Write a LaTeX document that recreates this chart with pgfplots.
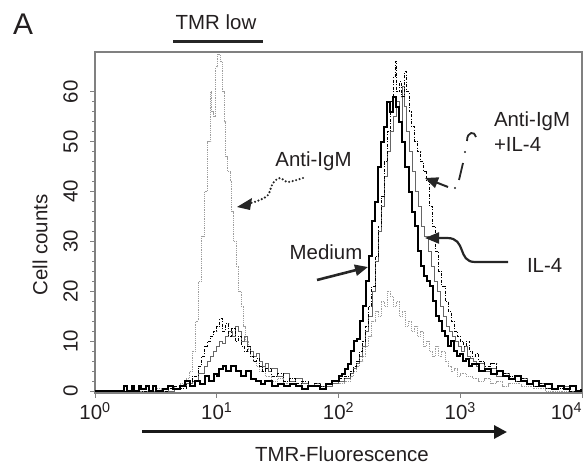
\documentclass[border=0pt]{standalone}
\usepackage{fontspec}
\setmainfont{Liberation Sans}
\usepackage{pgfplots}
\usepackage{pgfplotstable}
\pgfplotsset{compat=1.18}
\usetikzlibrary{arrows.meta}

\pgfplotstableread{
lx c
0.00 0
0.40 0
0.50 0.5
0.55 0
0.60 1
0.65 0.5
0.70 1.5
0.725 1
0.75 2.5
0.775 4
0.80 8
0.825 14
0.85 22
0.875 31
0.90 40
0.925 50
0.95 60
0.96 56
0.975 55
0.99 65
1.01 67.5
1.03 66
1.045 60
1.06 54
1.075 47
1.09 44
1.11 42
1.125 36
1.14 30
1.16 25
1.18 20
1.20 17
1.22 13
1.24 10
1.26 8
1.28 7
1.30 6
1.325 5
1.35 4
1.375 5
1.40 3
1.425 3
1.45 2
1.50 2.5
1.55 1.5
1.60 2
1.65 1
1.70 1.5
1.75 1
1.80 1.5
1.85 1
1.90 1.5
1.95 2
2.00 1.5
2.05 2
2.10 3
2.125 4
2.15 5
2.175 6
2.20 7
2.225 9
2.25 11
2.275 14
2.30 16
2.325 15
2.35 18
2.375 17
2.40 20
2.425 19
2.45 17
2.475 18
2.50 15
2.525 16
2.55 13
2.575 14
2.60 12
2.625 13
2.65 11
2.675 12
2.70 9
2.725 10
2.75 8
2.775 7
2.80 9
2.825 7
2.85 8
2.875 6
2.90 5
2.925 4
2.95 4.5
2.975 3
3.00 3.5
3.05 3
3.10 2.5
3.15 2
3.20 2.5
3.25 1.5
3.30 2
3.35 1
3.40 1.5
3.50 1
3.60 0.5
3.70 0
3.99 0
}\antiigm

\pgfplotstableread{
lx c
0.00 0
0.22 0
0.24 1
0.26 0
0.30 1
0.32 0
0.36 1
0.38 0.5
0.42 1
0.44 0
0.48 1
0.50 0
0.56 0.5
0.60 1
0.64 0.5
0.70 1
0.74 2
0.78 1
0.82 2
0.86 1.5
0.90 3
0.94 2
0.98 3.5
1.00 3
1.02 4.5
1.05 5
1.08 4
1.12 5
1.16 4
1.20 3
1.24 4
1.28 2.5
1.32 2
1.36 1.5
1.40 2
1.45 1
1.50 1.5
1.55 1
1.60 1.5
1.65 1
1.70 0.5
1.75 1
1.80 1
1.85 0.5
1.90 1.5
1.95 2
2.00 3
2.025 3.5
2.05 4.5
2.075 5.5
2.10 8
2.125 10
2.15 10.5
2.175 14
2.20 17
2.225 22
2.25 27
2.275 34
2.30 38
2.325 45
2.35 50
2.375 53
2.40 58
2.425 56
2.45 59
2.475 57
2.50 54
2.525 50
2.55 45
2.575 40
2.60 36
2.625 33
2.65 28
2.675 25
2.70 23
2.725 22
2.75 21
2.775 18
2.80 15
2.825 14
2.85 12
2.875 11
2.90 9
2.925 10
2.95 8
2.975 7
3.00 7.5
3.025 6
3.05 6.5
3.075 5
3.10 5.5
3.15 4
3.20 4.5
3.25 3.5
3.30 4
3.35 3
3.40 2.5
3.45 3
3.50 2
3.55 1.5
3.60 2
3.65 1
3.70 1.5
3.75 0.5
3.80 1
3.85 0.5
3.90 1
3.95 0
3.99 0.5
}\medium

\pgfplotstableread{
lx c
0.00 0
0.50 0
0.55 0.5
0.60 0
0.65 0.5
0.70 1
0.75 1.5
0.80 2
0.85 3.5
0.90 5
0.925 6
0.95 7
0.975 8
1.00 9
1.025 10
1.05 9.5
1.075 11
1.10 12
1.125 11
1.15 13
1.175 12
1.20 10
1.225 11
1.25 9
1.275 8
1.30 7
1.325 7.5
1.35 6
1.375 5
1.40 5.5
1.425 4
1.45 4.5
1.50 3
1.55 3.5
1.60 2
1.65 2.5
1.70 1.5
1.75 1
1.80 1.5
1.85 1
1.90 1
1.95 1.5
2.00 2
2.05 2.5
2.10 3.5
2.125 4.5
2.15 5.5
2.175 7
2.20 9
2.225 12
2.25 15
2.275 20
2.30 26
2.325 32
2.35 37
2.375 43
2.40 48
2.425 52
2.45 55
2.475 58
2.50 54
2.525 61
2.54 57
2.56 52
2.585 48
2.61 44
2.635 40
2.66 37
2.685 33
2.71 31
2.735 28
2.76 25
2.785 22
2.81 20
2.835 17
2.86 15
2.885 13
2.91 12
2.935 11
2.96 10
2.985 9
3.01 8
3.035 9
3.06 7
3.085 6.5
3.11 6
3.135 5
3.16 5.5
3.20 4
3.25 4.5
3.30 3
3.35 3.5
3.40 2.5
3.45 2
3.50 2.5
3.55 1.5
3.60 1
3.65 1.5
3.70 0.5
3.80 1
3.90 0
3.99 0
}\ilfour

\pgfplotstableread{
lx c
0.00 0
0.55 0
0.60 0.5
0.65 1
0.70 0.5
0.75 2
0.80 3
0.85 5
0.875 7
0.90 9
0.925 10
0.95 11
0.975 12
1.00 13
1.025 14.5
1.05 12
1.075 13.5
1.10 11
1.125 12.5
1.15 10
1.175 11
1.20 9
1.225 8
1.25 9
1.275 7
1.30 6
1.325 6.5
1.35 5
1.375 4
1.40 4.5
1.45 3
1.50 3.5
1.55 2
1.60 2.5
1.65 1.5
1.70 2
1.75 1
1.80 1.5
1.85 1
1.90 1.5
1.95 2
2.00 2.5
2.05 3
2.10 4
2.125 5
2.15 6
2.175 8
2.20 10
2.225 13
2.25 17
2.275 21
2.30 27
2.325 33
2.35 39
2.375 46
2.40 52
2.425 58
2.45 63
2.465 66
2.48 60
2.50 62
2.52 59
2.54 64
2.56 60
2.58 56
2.60 53
2.625 50
2.65 48
2.675 46
2.70 44
2.725 42
2.75 37
2.775 33
2.80 28
2.825 24
2.85 21
2.875 18
2.90 16
2.925 14
2.95 12
2.975 11
3.00 10
3.025 9
3.05 10
3.075 8
3.10 7
3.125 7.5
3.15 6
3.20 5
3.25 5.5
3.30 4
3.35 3.5
3.40 3
3.45 2
3.50 2.5
3.55 1.5
3.60 1
3.65 1.5
3.70 0.5
3.80 0.5
3.90 0
3.99 0
}\antiil

\definecolor{txt}{HTML}{231F20}
\definecolor{axgray}{HTML}{808080}

\begin{document}
\fontsize{20.5}{24}\selectfont
\begin{tikzpicture}[x=1bp,y=1bp,text=txt]
\begin{axis}[
  scale only axis,
  width=487bp, height=341bp,
  xmode=log, log basis x=10,
  xmin=1, xmax=10000,
  ymin=-0.4, ymax=68,
  xtick={1,10,100,1000,10000},
  xticklabels={10\textsuperscript{0},10\textsuperscript{1},10\textsuperscript{2},10\textsuperscript{3},\llap{10\textsuperscript{4}}},
  ytick={0,10,20,30,40,50,60},
  minor y tick num=4,
  tick align=outside,
  major tick length=5bp,
  minor tick length=3bp,
  axis line style={axgray, line width=1.2bp},
  every tick/.style={axgray, line width=0.8bp},
  xtick pos=bottom, ytick pos=left,
  /pgf/number format/assume math mode=true,
  xticklabel style={anchor=north, inner sep=0pt, yshift=-4bp, text=txt},
  yticklabel style={rotate=90, anchor=south, inner sep=0pt, yshift=12bp, text=txt},
  xlabel={TMR-Fluorescence},
  ylabel={Cell counts},
  xlabel style={at={(axis description cs:0.507,0)}, anchor=base, yshift=-69bp, inner sep=0pt, text=txt},
  ylabel style={at={(axis description cs:0,0.434)}, anchor=center, yshift=55bp, inner sep=0pt, text=txt},
  clip=true,
]
\addplot[const plot, color=black!38, line width=1bp, dash pattern=on 1bp off 0.8bp] table[x expr=10^\thisrow{lx}, y=c] {\antiigm};
\addplot[const plot, color=black!60, line width=0.9bp] table[x expr=10^\thisrow{lx}, y=c] {\ilfour};
\addplot[const plot, color=black, line width=1bp, dash pattern=on 3bp off 1.5bp on 1bp off 1.5bp] table[x expr=10^\thisrow{lx}, y=c] {\antiil};
\addplot[const plot, color=black, line width=2bp] table[x expr=10^\thisrow{lx}, y=c] {\medium};
\end{axis}

% panel letter and TMR low bar
\node at (-72,369) {\fontsize{30}{34}\selectfont A};
\node[anchor=base] at (121,363) {TMR low};
\draw[line width=3bp, black!85] (78,351) -- (168,351);

% Anti-IgM (left)
\node[anchor=base] at (218.5,226) {Anti-IgM};
\draw[line width=2.4bp, dash pattern=on 0bp off 3.6bp, line cap=round, black!85]
  plot[smooth] coordinates {(208,215) (193,211) (185,215) (178,210) (173,198) (165,193) (156,190)};
\fill[black!85] (142,186) -- (157,195) -- (155,183) -- cycle;

% Anti-IgM + IL-4
\node[anchor=base west] at (392,266) {Anti-IgM};
\node[anchor=base west] at (392,241) {+IL-4};
\draw[line width=1.8bp, black!85] (381,256) .. controls (380,262) and (372,262) .. (372,252);
\fill[black!85] (370,241) circle (1.1bp);
\draw[line width=1.8bp, black!85] (368,230) -- (364,213);
\fill[black!85] (360,205) circle (1.1bp);
\draw[line width=2bp, black!85, -{Triangle[length=13bp,width=11bp]}] (353,206) -- (330,215);

% Medium
\node[anchor=base] at (231,133) {Medium};
\draw[line width=2.6bp, black!85, -{Triangle[length=13bp,width=11bp]}] (222,113) -- (273,126);

% IL-4
\node[anchor=base west] at (425,120) {IL-4};
\draw[line width=2.2bp, black!85, -{Triangle[length=14bp,width=11bp]}]
  (413,131) -- (380,131) .. controls (362,131) and (372,155) .. (352,155) -- (330,155);

% axis arrow
\draw[line width=3bp, black!90, -{Triangle[length=13bp,width=13bp]}] (47,-39) -- (412,-39);

\pgfresetboundingbox
\useasboundingbox (-95,-72) rectangle (491,393);
\end{tikzpicture}
\end{document}
